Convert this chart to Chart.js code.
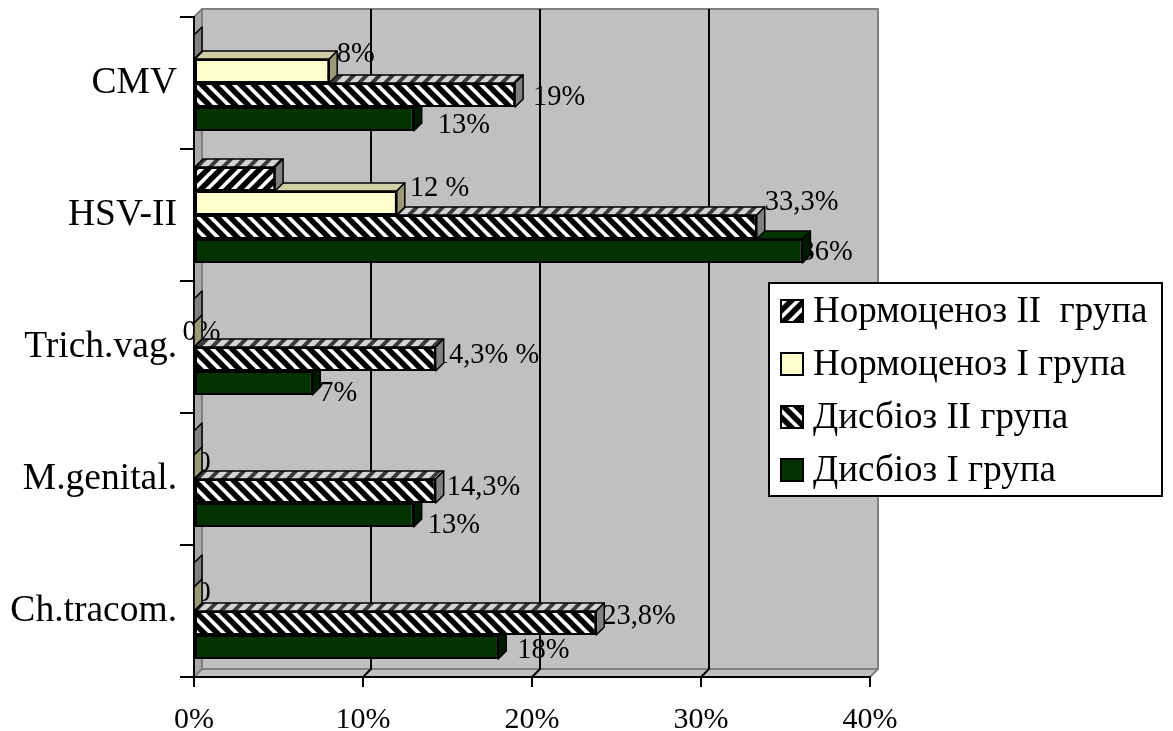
<!DOCTYPE html>
<html>
<head>
<meta charset="utf-8">
<script src="https://cdn.jsdelivr.net/npm/chart.js@4/dist/chart.umd.min.js"></script>
<style>
  html, body { margin: 0; padding: 0; background: #ffffff; }
  canvas { display: block; }
</style>
</head>
<body>
<canvas id="chart" width="1173" height="731"></canvas>
<script>
// Infections by group, percent of patients
const categories = ['CMV', 'HSV-II', 'Trich.vag.', 'M.genital.', 'Ch.tracom.'];
const seriesNames = ['Нормоценоз II  група', 'Нормоценоз I група', 'Дисбіоз II група', 'Дисбіоз I група'];

const normII = [0, 4.8, 0, 0, 0];
const normI  = [8, 12, 0, 0, 0];
const disII  = [19, 33.3, 14.3, 14.3, 23.8];
const disI   = [13, 36, 7, 13, 18];

// Value labels printed next to the bars
const normIILabels = ['', '', '', '', ''];
const normILabels  = ['8%', '12 %', '0%', '0', '0'];
const disIILabels  = ['19%', '33,3%', '14,3% %', '14,3%', '23,8%'];
const disILabels   = ['13%', '36%', '7%', '13%', '18%'];

const xTickValues = [0, 10, 20, 30, 40];

// ---- styling ----
const SERIF = "'Times New Roman', 'Liberation Serif', serif";
const DEPTH = 8;                       // 3D extrusion of walls and bars
const WALL = '#c0c0c0';
const WALL_EDGE = '#808080';

function stripes(dir, bg, fg, period, width) {
  const c = document.createElement('canvas');
  c.width = period; c.height = period;
  const g = c.getContext('2d');
  g.fillStyle = bg; g.fillRect(0, 0, period, period);
  g.strokeStyle = fg; g.lineWidth = width; g.lineCap = 'square';
  for (let k = -1; k <= 1; k++) {
    g.beginPath();
    if (dir === '\\') { g.moveTo(k * period, 0); g.lineTo(k * period + period, period); }
    else { g.moveTo(k * period, period); g.lineTo(k * period + period, 0); }
    g.stroke();
  }
  return g.createPattern(c, 'repeat');
}
const ctx = document.getElementById('chart').getContext('2d');
const hatchBack = stripes('\\', '#ffffff', '#000000', 13, 5.5);
const hatchFwd  = stripes('/',  '#ffffff', '#000000', 13, 5.5);
const hatchTop  = stripes('/',  '#d4d4d4', '#3a3a3a', 13, 4);

// per-series face colours: front, top, side
const faceStyles = [
  { front: hatchFwd,  top: hatchTop,  side: '#808080' },
  { front: '#ffffcc', top: '#cfcfa6', side: '#9a9a76' },
  { front: hatchBack, top: hatchTop,  side: '#808080' },
  { front: '#003300', top: '#003300', side: '#001a00' }
];

// label offsets from bar end (dx) and bar centre (dy)
const labelOffsets = [
  [[0, 0], [0, 0], [0, 0], [0, 0], [0, 0]],
  [[7.5, -17], [13, -15], [-11.5, -3], [2.5, -4], [2.5, -6]],
  [[18, 2], [8, -25], [-1, -4], [11, -4], [6, -7]],
  [[24, 6], [-2, 1], [7, 10], [14, 10], [19, 3]]
];
const seriesValues = [normII, normI, disII, disI];
const seriesLabels = [normIILabels, normILabels, disIILabels, disILabels];

function poly(c, pts, fill) {
  c.beginPath();
  c.moveTo(pts[0][0], pts[0][1]);
  for (let i = 1; i < pts.length; i++) c.lineTo(pts[i][0], pts[i][1]);
  c.closePath();
  c.fillStyle = fill; c.fill();
  c.lineWidth = 1.5; c.strokeStyle = '#000'; c.stroke();
}

const walls3d = {
  id: 'walls3d',
  beforeDraw(chart) {
    const c = chart.ctx, a = chart.chartArea, d = DEPTH;
    c.save();
    c.lineJoin = 'round';
    // back wall
    c.fillStyle = WALL;
    c.fillRect(a.left + d, a.top - d, a.right - a.left, a.bottom - a.top);
    c.strokeStyle = WALL_EDGE; c.lineWidth = 2;
    c.strokeRect(a.left + d, a.top - d, a.right - a.left, a.bottom - a.top);
    // left wall
    c.beginPath();
    c.moveTo(a.left, a.top); c.lineTo(a.left + d, a.top - d);
    c.lineTo(a.left + d, a.bottom - d); c.lineTo(a.left, a.bottom); c.closePath();
    c.fillStyle = '#a8a8a8'; c.fill(); c.stroke();
    // floor
    c.beginPath();
    c.moveTo(a.left, a.bottom); c.lineTo(a.left + d, a.bottom - d);
    c.lineTo(a.right + d, a.bottom - d); c.lineTo(a.right, a.bottom); c.closePath();
    c.fillStyle = WALL; c.fill(); c.stroke();
    // grid lines on the back wall and floor
    const xs = chart.scales.x;
    c.strokeStyle = '#000'; c.lineWidth = 2;
    xTickValues.forEach(v => {
      if (v === 0 || v === 40) return;
      const px = Math.round(xs.getPixelForValue(v));
      c.beginPath();
      c.moveTo(px + d, a.top - d); c.lineTo(px + d, a.bottom - d);
      c.lineTo(px, a.bottom);
      c.stroke();
    });
    c.restore();
  },
  beforeDatasetsDraw(chart) {
    // value labels sit behind the bars
    const c = chart.ctx;
    c.save();
    c.font = '28.5px ' + SERIF;
    c.fillStyle = '#000';
    c.textAlign = 'left';
    c.textBaseline = 'middle';
    seriesLabels.forEach((labels, i) => {
      const meta = chart.getDatasetMeta(i);
      labels.forEach((txt, j) => {
        if (!txt) return;
        const el = meta.data[j];
        const off = labelOffsets[i][j];
        c.fillText(txt, el.x + off[0], el.y + off[1] + 1);
      });
    });
    c.restore();
  },
  beforeDatasetDraw(chart, args) {
    const c = chart.ctx, d = DEPTH;
    const st = faceStyles[args.index];
    c.save();
    c.lineJoin = 'round';
    args.meta.data.forEach(el => {
      const p = el.getProps(['x', 'y', 'base', 'height'], true);
      const t = p.y - p.height / 2, b = p.y + p.height / 2;
      if (p.x > p.base + 0.5) {
        poly(c, [[p.base, t], [p.base + d, t - d], [p.x + d, t - d], [p.x, t]], st.top);
      }
      poly(c, [[p.x, t], [p.x + d, t - d], [p.x + d, b - d], [p.x, b]], st.side);
    });
    c.restore();
  },
  afterDraw(chart) {
    // legend box over the right side of the plot
    const c = chart.ctx;
    c.save();
    const L = 769, T = 283, W = 393, H = 213;
    c.fillStyle = '#fff'; c.fillRect(L, T, W, H);
    c.lineWidth = 2; c.strokeStyle = '#000'; c.strokeRect(L, T, W, H);
    c.font = '37px ' + SERIF;
    c.textAlign = 'left'; c.textBaseline = 'middle';
    seriesNames.forEach((name, i) => {
      const cy = 311 + i * 53;
      c.fillStyle = faceStyles[i].front;
      c.fillRect(781, cy - 11, 22, 22);
      c.lineWidth = 2; c.strokeStyle = '#000';
      c.strokeRect(781, cy - 11, 22, 22);
      c.fillStyle = '#000';
      c.fillText(name, 813, cy + 1);
    });
    c.restore();
  }
};

new Chart(ctx, {
  type: 'bar',
  data: {
    labels: categories,
    datasets: seriesNames.map((name, i) => ({
      label: name,
      data: seriesValues[i],
      backgroundColor: faceStyles[i].front,
      borderColor: '#000',
      borderWidth: 2,
      borderSkipped: false,
      categoryPercentage: 0.727,
      barPercentage: 1.0
    }))
  },
  options: {
    indexAxis: 'y',
    responsive: false,
    animation: false,
    devicePixelRatio: 1,
    layout: { padding: { top: 17, right: 303, left: 0, bottom: 0 } },
    plugins: { legend: { display: false }, tooltip: { enabled: false } },
    scales: {
      x: {
        type: 'linear',
        min: 0, max: 40,
        afterFit(scale) { scale.height = 54; scale.paddingLeft = 0; scale.paddingRight = 0; },
        afterBuildTicks(scale) { scale.ticks = xTickValues.map(v => ({ value: v })); },
        ticks: {
          callback: v => v + '%',
          color: '#000',
          font: { family: SERIF, size: 30 },
          padding: 15,
          maxRotation: 0
        },
        grid: { drawOnChartArea: false, drawTicks: true, tickLength: 10, color: '#000', lineWidth: 2 },
        border: { display: true, color: '#000', width: 2 }
      },
      y: {
        type: 'category',
        afterFit(scale) { scale.width = 194; scale.paddingTop = 0; scale.paddingBottom = 0; },
        ticks: {
          color: '#000',
          font: { family: SERIF, size: 37.5 },
          padding: 3
        },
        grid: { drawOnChartArea: false, drawTicks: true, tickLength: 14, color: '#000', lineWidth: 2, offset: true },
        border: { display: true, color: '#000', width: 2 }
      }
    }
  },
  plugins: [walls3d]
});
</script>
</body>
</html>
